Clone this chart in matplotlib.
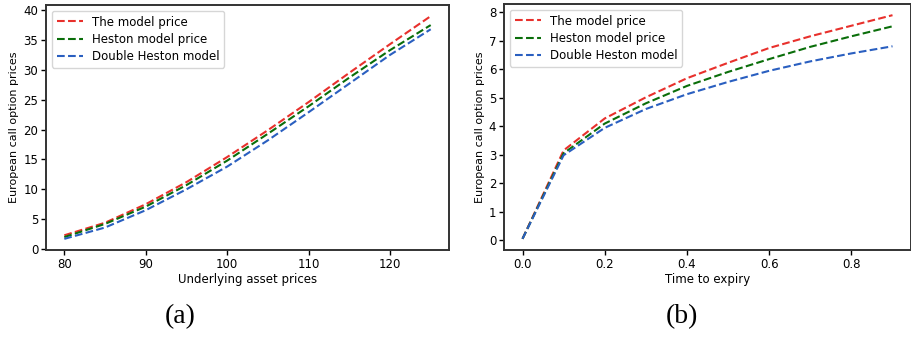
import matplotlib
matplotlib.use("Agg")
import matplotlib.pyplot as plt

# Panel (a): underlying asset prices
asset_prices = [80, 85, 90, 95, 100, 105, 110, 115, 120, 125]
model_price_a = [2.3, 4.4, 7.5, 11.2, 15.4, 19.9, 24.6, 29.5, 34.3, 39.0]
heston_price_a = [2.0, 4.2, 7.1, 10.7, 14.8, 19.3, 23.9, 28.7, 33.3, 37.5]
double_heston_a = [1.7, 3.6, 6.5, 10.0, 13.8, 18.2, 22.9, 27.7, 32.5, 36.8]

# Panel (b): time to expiry
expiry = [0.0, 0.1, 0.2, 0.3, 0.4, 0.5, 0.6, 0.7, 0.8, 0.9]
model_price_b = [0.05, 3.15, 4.27, 5.01, 5.68, 6.22, 6.74, 7.15, 7.52, 7.89]
heston_price_b = [0.05, 3.05, 4.09, 4.80, 5.41, 5.90, 6.35, 6.78, 7.15, 7.50]
double_heston_b = [0.05, 2.98, 3.94, 4.60, 5.12, 5.55, 5.94, 6.27, 6.55, 6.80]

labels = ["The model price", "Heston model price", "Double Heston model"]
colors = ["#e8302c", "#0a6e0a", "#2a5fc0"]

fig = plt.figure(figsize=(9.12, 3.39), dpi=100)
W, H = 912, 339
ax1 = fig.add_axes([46 / W, 1 - 250 / H, (449 - 46) / W, (250 - 5) / H])
ax2 = fig.add_axes([504 / W, 1 - 250 / H, (911 - 504) / W, (250 - 4) / H])

for ax, x, series, xlabel, sub, cx in [
    (ax1, asset_prices, [model_price_a, heston_price_a, double_heston_a],
     "Underlying asset prices", "(a)", 180),
    (ax2, expiry, [model_price_b, heston_price_b, double_heston_b],
     "Time to expiry", "(b)", 682),
]:
    for y, lab, c in zip(series, labels, colors):
        ax.plot(x, y, linestyle="--", color=c, linewidth=1.5, label=lab)
    ax.set_xlabel(xlabel, fontsize=8.5, labelpad=2)
    ax.set_ylabel("European call option prices", fontsize=8, labelpad=3)
    ax.tick_params(labelsize=8.5, length=3.5, width=1, pad=2)
    for s in ax.spines.values():
        s.set_linewidth(1.4)
        s.set_color("#333333")
    ax.legend(loc="upper left", fontsize=8.5, frameon=True, handlelength=2.2,
              borderaxespad=0.5, labelspacing=0.35)
    fig.text(cx / W, 1 - 317 / H, sub, ha="center", va="center",
             fontsize=20, family="Liberation Serif")

ax1.set_yticks([0, 5, 10, 15, 20, 25, 30, 35, 40])
ax1.set_xticks([80, 90, 100, 110, 120])
ax2.set_yticks(range(0, 9))
ax2.set_xticks([0.0, 0.2, 0.4, 0.6, 0.8])

fig.savefig("out.png", dpi=100)
